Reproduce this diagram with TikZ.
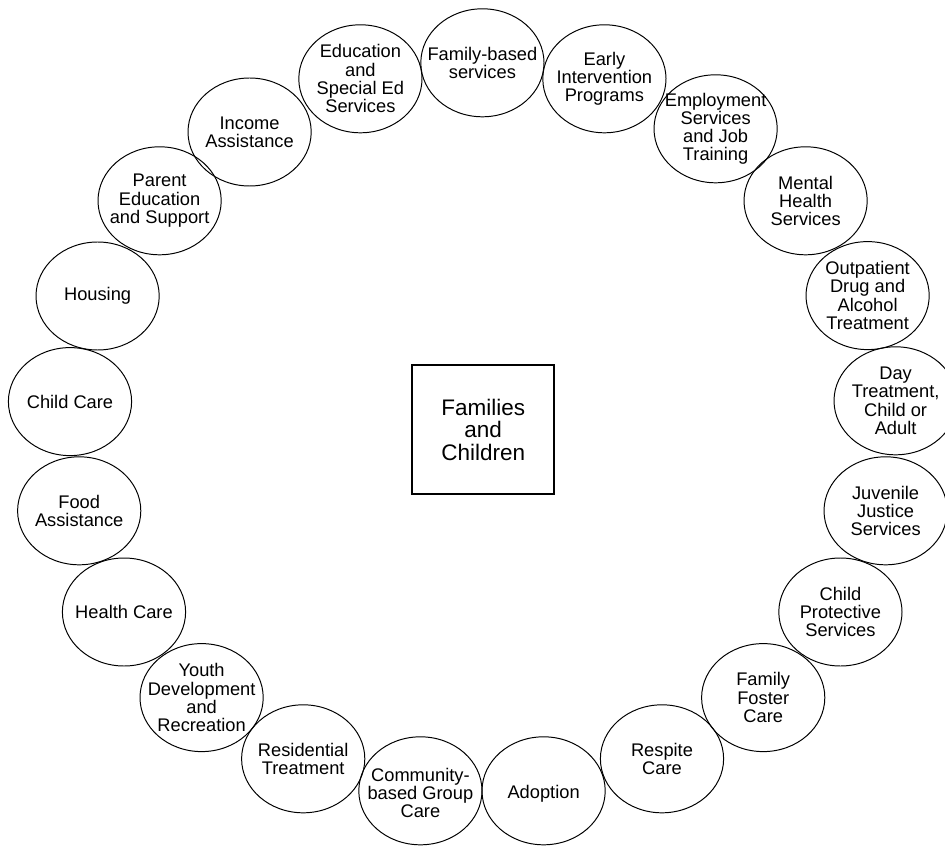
\documentclass[tikz,border=0pt]{standalone}
\usepackage{fontspec}
\setmainfont{Liberation Sans}
\begin{document}
\begin{tikzpicture}
					\useasboundingbox (0,0) rectangle (23.625,21.15);
					\tikzstyle{every node}=[align=center,inner sep=0pt];
					\tikzstyle{svc}=[font=\fontsize{13}{13}\selectfont];
					\tikzstyle{ring}=[line width=0.7pt];
					\path (12.08,10.41) node[draw,line width=1.2pt,minimum width=3.55cm,minimum height=3.22cm,font=\fontsize{16}{16}\selectfont] (c) {Families\\and\\Children};
					\path (12.06,19.58) node[svc] (v0) {Family-based\\services};
					\path (15.11,19.18) node[svc] (v1) {Early\\Intervention\\Programs};
					\path (17.89,17.93) node[svc] (v2) {Employment\\Services\\and Job\\Training};
					\path (20.14,16.13) node[svc] (v3) {Mental\\Health\\Services};
					\path (21.69,13.76) node[svc] (v4) {Outpatient\\Drug and\\Alcohol\\Treatment};
					\path (22.39,11.13) node[svc] (v5) {Day\\Treatment,\\Child or\\Adult};
					\path (22.14,8.38) node[svc] (v6) {Juvenile\\Justice\\Services};
					\path (21.01,5.85) node[svc] (v7) {Child\\Protective\\Services};
					\path (19.08,3.71) node[svc] (v8) {Family\\Foster\\Care};
					\path (16.55,2.18) node[svc] (v9) {Respite\\Care};
					\path (13.59,1.3) node[svc] (v10) {Adoption};
					\path (10.51,1.33) node[svc] (v11) {Community-\\based Group\\Care};
					\path (7.58,2.18) node[svc] (v12) {Residential\\Treatment};
					\path (5.04,3.71) node[svc] (v13) {Youth\\Development\\and\\Recreation};
					\path (3.1,5.85) node[svc] (v14) {Health Care};
					\path (1.98,8.38) node[svc] (v15) {Food\\Assistance};
					\path (1.75,11.11) node[svc] (v16) {Child Care};
					\path (2.44,13.75) node[svc] (v17) {Housing};
					\path (3.99,16.13) node[svc] (v18) {Parent\\Education\\and Support};
					\path (6.24,17.85) node[svc] (v19) {Income\\Assistance};
					\path (9.01,19.18) node[svc] (v20) {Education\\and\\Special Ed\\Services};
					\draw[ring] (12.06,19.58) ellipse (1.54 and 1.35);
					\draw[ring] (15.11,19.18) ellipse (1.54 and 1.35);
					\draw[ring] (17.89,17.93) ellipse (1.54 and 1.35);
					\draw[ring] (20.14,16.13) ellipse (1.54 and 1.35);
					\draw[ring] (21.69,13.76) ellipse (1.54 and 1.35);
					\draw[ring] (22.39,11.13) ellipse (1.54 and 1.35);
					\draw[ring] (22.14,8.38) ellipse (1.54 and 1.35);
					\draw[ring] (21.01,5.85) ellipse (1.54 and 1.35);
					\draw[ring] (19.08,3.71) ellipse (1.54 and 1.35);
					\draw[ring] (16.55,2.18) ellipse (1.54 and 1.35);
					\draw[ring] (13.59,1.38) ellipse (1.54 and 1.35);
					\draw[ring] (10.51,1.38) ellipse (1.54 and 1.35);
					\draw[ring] (7.58,2.18) ellipse (1.54 and 1.35);
					\draw[ring] (5.04,3.71) ellipse (1.54 and 1.35);
					\draw[ring] (3.1,5.85) ellipse (1.54 and 1.35);
					\draw[ring] (1.98,8.38) ellipse (1.54 and 1.35);
					\draw[ring] (1.75,11.11) ellipse (1.54 and 1.35);
					\draw[ring] (2.44,13.75) ellipse (1.54 and 1.35);
					\draw[ring] (3.99,16.13) ellipse (1.54 and 1.35);
					\draw[ring] (6.24,17.85) ellipse (1.54 and 1.35);
					\draw[ring] (9.01,19.18) ellipse (1.54 and 1.35);
\end{tikzpicture}
\end{document}
